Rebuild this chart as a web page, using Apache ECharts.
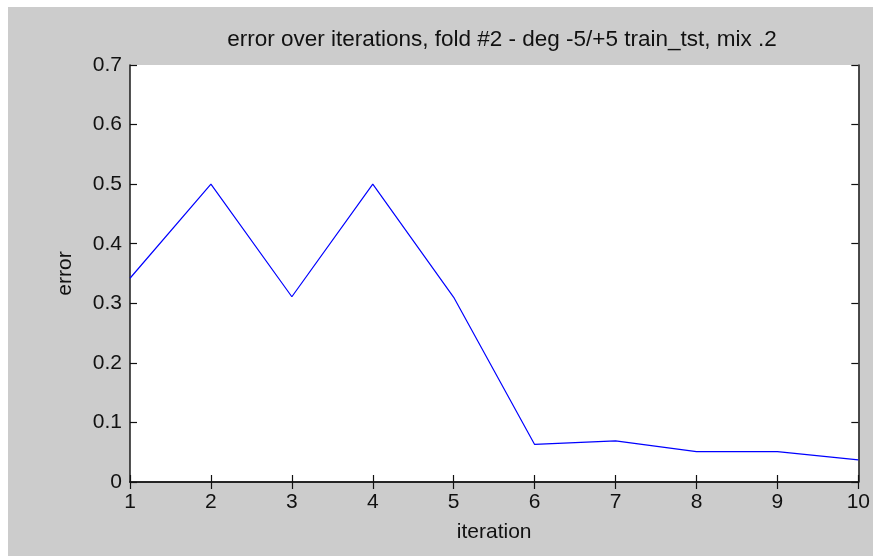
<!DOCTYPE html>
<html>
<head>
<meta charset="utf-8">
<script src="https://cdn.jsdelivr.net/npm/echarts@6/dist/echarts.min.js"></script>
<style>
  html, body { margin: 0; padding: 0; background: #ffffff; width: 873px; height: 556px; overflow: hidden; }
  #chart { position: absolute; left: 8px; top: 7px; width: 865px; height: 549px; background: #cccccc; }
</style>
</head>
<body>
<div id="chart"></div>
<script>
// error per iteration
const iterations = [1, 2, 3, 4, 5, 6, 7, 8, 9, 10];
const errorValues = [0.342, 0.5, 0.311, 0.5, 0.31, 0.063, 0.069, 0.051, 0.051, 0.037];
const yTicks = [0, 0.1, 0.2, 0.3, 0.4, 0.5, 0.6, 0.7];

const chart = echarts.init(document.getElementById('chart'), null, { renderer: 'canvas' });
const FONT = 'Liberation Sans, Arial, sans-serif';
const tickStyle = { show: true, inside: true, length: 7, lineStyle: { color: '#111', width: 1.2 } };
const lineStyle = { show: true, lineStyle: { color: '#1a1a1a', width: 1.5 } };

chart.setOption({
  animation: false,
  title: {
    text: 'error over iterations, fold #2 - deg -5/+5 train_tst, mix .2',
    left: 489, textAlign: 'center', top: 16,
    textStyle: { fontFamily: FONT, fontSize: 22.5, fontWeight: 'normal', color: '#111' }
  },
  grid: {
    left: 122, right: 12, top: 58, bottom: 74,
    show: true, backgroundColor: '#ffffff', borderWidth: 0
  },
  xAxis: [{
    type: 'value', min: 1, max: 10, interval: 1,
    name: 'iteration', nameLocation: 'middle', nameGap: 40,
    nameTextStyle: { fontFamily: FONT, fontSize: 21, color: '#111' },
    axisLine: lineStyle, axisTick: tickStyle,
    axisLabel: { fontFamily: FONT, fontSize: 21, color: '#111', margin: 10 },
    splitLine: { show: false }
  }, {
    type: 'value', min: 1, max: 10, interval: 1, position: 'top',
    axisLine: lineStyle, axisTick: tickStyle,
    axisLabel: { show: false }, splitLine: { show: false }
  }],
  yAxis: [{
    type: 'value', min: 0, max: 0.7, interval: 0.1,
    name: 'error', nameLocation: 'middle', nameGap: 54, nameRotate: 90,
    nameTextStyle: { fontFamily: FONT, fontSize: 21, color: '#111' },
    axisLine: lineStyle, axisTick: tickStyle,
    axisLabel: {
      fontFamily: FONT, fontSize: 21, color: '#111', margin: 8,
      formatter: v => { const t = yTicks.find(k => Math.abs(k - v) < 1e-9); return t === 0 ? '0' : String(t); }
    },
    splitLine: { show: false }
  }, {
    type: 'value', min: 0, max: 0.7, interval: 0.1, position: 'right',
    axisLine: lineStyle, axisTick: tickStyle,
    axisLabel: { show: false }, splitLine: { show: false }
  }],
  series: [{
    type: 'line',
    data: iterations.map((it, i) => [it, errorValues[i]]),
    showSymbol: false,
    lineStyle: { color: '#0000ff', width: 1.2 },
    itemStyle: { color: '#0000ff' }
  }]
});
</script>
</body>
</html>
